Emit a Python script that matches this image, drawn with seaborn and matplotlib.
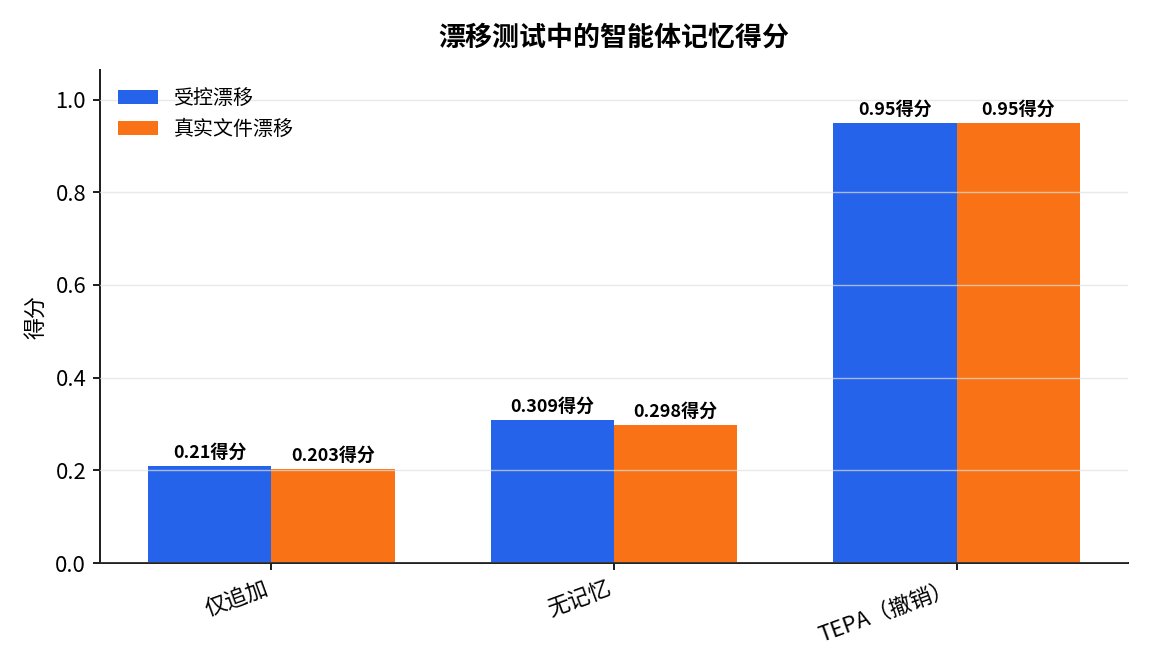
import numpy as np
import pandas as pd
import seaborn as sns
import matplotlib.pyplot as plt

categories = ['仅追加', '无记忆', 'TEPA（撤销）']
series_names = ['受控漂移', '真实文件漂移']
controlled = [0.21, 0.309, 0.95]
real_file = [0.203, 0.298, 0.95]
bar_labels = [['0.21得分', '0.309得分', '0.95得分'],
              ['0.203得分', '0.298得分', '0.95得分']]
colors = ['#2563eb', '#f97316']

sns.set_theme(style='white')
plt.rcParams['font.family'] = ['Noto Sans CJK SC', 'DejaVu Sans']
plt.rcParams['text.color'] = 'black'
plt.rcParams['axes.labelcolor'] = 'black'
plt.rcParams['xtick.color'] = 'black'
plt.rcParams['ytick.color'] = 'black'

df = pd.DataFrame({
    'category': categories * 2,
    'series': [series_names[0]] * 3 + [series_names[1]] * 3,
    'score': controlled + real_file,
})

fig, ax = plt.subplots(figsize=(8, 4.6667), dpi=144)
sns.barplot(data=df, x='category', y='score', hue='series', order=categories,
            hue_order=series_names, palette=colors, width=0.72, saturation=1,
            errorbar=None, linewidth=0, ax=ax)

for cont, labels in zip(ax.containers, bar_labels):
    ax.bar_label(cont, labels=labels, padding=2, fontsize=9, fontweight='bold')

ax.set_ylim(0, max(controlled + real_file) * 1.12)
ax.set_xlim(-0.5, 2.5)
ax.yaxis.grid(True, color='#e0e0e0', linewidth=0.7, alpha=0.7)
ax.set_axisbelow(False)
ax.set_title('漂移测试中的智能体记忆得分', fontsize=13.5, fontweight='bold', pad=12)
ax.set_xlabel('')
ax.set_ylabel('得分', fontsize=11)
ax.tick_params(axis='both', labelsize=11, length=3.5, width=1, color='#222222',
               bottom=True, left=True)
plt.setp(ax.get_xticklabels(), rotation=20, ha='right')
for s in ['top', 'right']:
    ax.spines[s].set_visible(False)
for s in ['left', 'bottom']:
    ax.spines[s].set_color('#222222')
    ax.spines[s].set_linewidth(1.0)
ax.legend(frameon=False, loc='upper left', fontsize=10)

fig.subplots_adjust(left=0.087, right=0.979, top=0.896, bottom=0.162)
fig.savefig('out.png')
